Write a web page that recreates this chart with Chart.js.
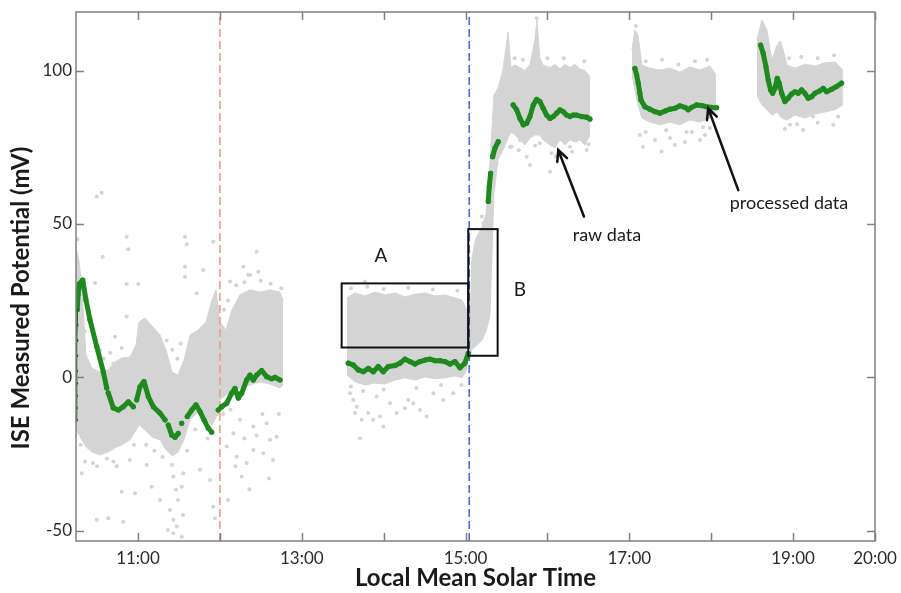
<!DOCTYPE html>
<html>
<head>
<meta charset="utf-8">
<script src="https://cdn.jsdelivr.net/npm/chart.js@4.4.1/dist/chart.umd.min.js"></script>
<style>
    html, body { margin: 0; padding: 0; background: #fff; }
</style>
</head>
<body>
<canvas id="myChart" width="901" height="593"></canvas>
<script>
//axis limits (hours of local mean solar time / mV)
const tMin = 10.243, tMax = 20;
const vMin = -53.4, vMax = 119.1;
const hourTicks = [11, 12, 13, 14, 15, 16, 17, 18, 19, 20];
const hourLabels = ['11:00', '', '13:00', '', '15:00', '', '17:00', '', '19:00', '20:00'];
const valueTicks = [-50, 0, 50, 100];

//processed data (green), null = gap
const procTime = [10.258, 10.268, 10.285, 10.325, 10.365, 10.414, 10.496, 10.576, 10.618, 10.627, 10.637, 10.698, 10.759, 10.821, 10.882, 10.943, 10.96,
    10.984, 11.024, 11.073, 11.126, 11.187, 11.269, 11.330, 11.35, 11.370, 11.411, 11.452, 11.492, 11.51, 11.534, 11.57,
    11.602, 11.656, 11.708, 11.757, 11.806, 11.858, 11.900, 11.94, 11.980, 12.022, 12.083, 12.144, 12.184, 12.225, 12.266,
    12.327, 12.368, 12.408, 12.449, 12.510, 12.571, 12.632, 12.673, 12.734, 13.1,
    13.568, 13.629, 13.690, 13.751, 13.812, 13.873, 13.934, 13.995, 14.056, 14.138, 14.199, 14.260, 14.321, 14.382, 14.443,
    14.504, 14.565, 14.626, 14.687, 14.748, 14.810, 14.871, 14.932, 14.993, 15.033, 15.15,
    15.277, 15.289, 15.306, 15.32, 15.331, 15.359, 15.399, 15.5,
    15.582, 15.624, 15.664, 15.705, 15.746, 15.786, 15.827, 15.868, 15.908, 15.949, 15.990, 16.031, 16.071, 16.112, 16.153,
    16.193, 16.234, 16.275, 16.315, 16.356, 16.418, 16.479, 16.519, 16.8,
    17.068, 17.089, 17.109, 17.129, 17.142, 17.190, 17.252, 17.313, 17.374, 17.435, 17.496, 17.557, 17.618, 17.679, 17.719,
    17.761, 17.822, 17.883, 17.944, 18.005, 18.066, 18.3,
    18.603, 18.635, 18.668, 18.696, 18.725, 18.750, 18.778, 18.806, 18.830, 18.860, 18.900, 18.940, 18.982, 19.022, 19.062,
    19.104, 19.144, 19.184, 19.226, 19.266, 19.327, 19.368, 19.409, 19.470, 19.531, 19.592];
const procValue = [22, 27, 30.5, 31.7, 25.2, 18.7, 10.0, 1.8, -3.5, null, -5.1, -10.0, -10.7, -9.6, -8.0, -9.6, null,
    -7.4, -3.1, -1.4, -6.3, -9.6, -11.7, -13.9, null, -15.6, -18.8, -19.6, -18.3, null, -15.0, null,
    -12.8, -10.7, -9.0, -11.2, -13.9, -16.6, -17.9, null, -10.7, -9.6, -8.5, -5.2, -3.6, -6.8, -5.2,
    -0.9, 0.7, -0.9, 0.7, 2.2, 0.2, -0.5, 0.0, -0.9, null,
    4.6, 4.0, 2.4, 1.8, 2.9, 1.8, 3.5, 1.8, 3.5, 3.8, 4.6, 5.9, 5.1, 4.3, 5.1,
    5.6, 5.9, 5.4, 5.4, 5.1, 4.3, 5.1, 3.1, 4.6, 7.8, null,
    57.3, 62.1, 66.5, null, 71.9, 74.7, 76.8, null,
    88.8, 87.2, 84.4, 82.3, 82.8, 85.0, 88.8, 90.6, 89.9, 87.7, 85.5, 84.4, 85.0, 86.1, 87.2,
    86.6, 85.5, 85.0, 85.5, 85.5, 85.0, 84.8, 84.2, null,
    100.7, 98.6, 95.9, 92.6, 90.4, 88.2, 87.4, 86.6, 86.1, 86.8, 87.4, 87.7, 88.5, 88.0, 87.2,
    88.0, 88.8, 88.6, 88.2, 88.0, 87.9, null,
    108.3, 105.6, 101.3, 96.9, 93.7, 92.6, 94.2, 97.5, 95.9, 92.6, 89.9, 91.0, 92.4, 93.1, 92.6,
    93.7, 92.6, 91.0, 91.5, 92.6, 93.4, 94.2, 93.1, 93.9, 94.8, 95.9];

//first rise of processed data at the left edge (thin dots)
const riseTime = [10.246, 10.247, 10.248, 10.249, 10.250, 10.252, 10.254, 10.256, 10.258];
const riseValue = [-14, -10, -6, -2, 2, 7, 12, 17, 22];

//raw data (gray): dense cloud envelopes per segment
const band1Time = [10.243, 10.280, 10.316, 10.365, 10.438, 10.536, 10.634, 10.719, 10.805, 10.902, 10.976, 11.012, 11.085, 11.171,
    11.269, 11.342, 11.415, 11.488, 11.562, 11.635, 11.733, 11.830, 11.904, 11.952, 12.001, 12.074, 12.148, 12.245,
    12.368, 12.490, 12.612, 12.734, 12.770];
const band1High = [42, 38, 28.5, 7.3, 3, 1.7, 2.4, 5, 6.3, 6.6, 10.5, 18, 19.3, 16.7, 13.8, 8.9, 1.7, 0.7, 5.6, 13.8, 15.4, 18,
    25.2, 28.5, 18, 15.4, 22, 26.9, 28.5, 27.8, 28.5, 27.8, 25.2];
const band1Low = [-17, -18.8, -20.5, -22.7, -24.4, -25.3, -24.4, -23, -22, -20.4, -17.2, -15.5, -17.2, -19.5, -20.4, -23.6,
    -25.6, -24.4, -20.4, -13.9, -11.3, -13.9, -15.5, -13.2, -7.4, -5.7, -4.8, -3.5, -2.5, -1.5, -2.2, -3.5, -2.5];

const bandATime = [13.552, 13.650, 13.772, 13.894, 14.016, 14.138, 14.260, 14.382, 14.504, 14.626, 14.748, 14.871, 14.956, 15.017];
const bandAHigh = [25.9, 27.5, 26.5, 27.8, 26.8, 27.5, 26.2, 27.1, 27.5, 26.5, 26.8, 25.9, 25.2, 21.9];
const bandALow = [0.7, -1.5, -2.5, -1.9, -2.2, -0.9, -0.2, -0.9, 0.1, -0.5, -0.2, 0.4, -0.2, 2.4];

const band3Time = [15.054, 15.075, 15.12, 15.200, 15.250, 15.298, 15.347, 15.396, 15.457, 15.518, 15.555, 15.603, 15.664, 15.725,
    15.786, 15.847, 15.872, 15.908, 15.945, 16.031, 16.092, 16.153, 16.214, 16.275, 16.336, 16.397, 16.458, 16.519];
const band3High = [12, 38, 45, 49, 53, 70, 92, 94.3, 100.2, 112.6, 101, 101.8, 101, 100, 102, 110, 116.5, 104, 101.8, 101, 102,
    100.5, 102, 101, 102, 100.5, 100, 98];
const band3Low = [6, 9, 10, 12, 15, 20, 60, 70.8, 74.1, 78, 80, 79, 77.4, 75.7, 78, 79, 79, 79, 77.4, 75.7, 74.8, 77.4, 75.7,
    77.4, 76.7, 77.4, 75.7, 79];

const band4Time = [17.032, 17.068, 17.105, 17.154, 17.252, 17.374, 17.496, 17.618, 17.740, 17.862, 17.984, 18.057];
const band4High = [106.7, 113.2, 111.6, 101.8, 100.8, 100.2, 100.8, 99.5, 101.2, 100.2, 101.5, 98.6];
const band4Low = [98.6, 93.7, 88.8, 84.5, 83.2, 82.3, 83.2, 82.3, 83.9, 83.2, 84.5, 87.2];

const band5Time = [18.558, 18.619, 18.680, 18.741, 18.802, 18.863, 18.924, 19.022, 19.144, 19.266, 19.388, 19.510, 19.608];
const band5High = [110, 116.5, 113.2, 103.4, 108.3, 108.3, 101.8, 100.8, 102.1, 101.5, 102.5, 102.8, 100.2];
const band5Low = [92, 88.8, 87.2, 85.5, 86.5, 84.5, 83.9, 85.5, 84.5, 85.8, 86.5, 87.2, 88.8];

//raw data (gray): loose points outside the dense cloud
const dotTime = [10.496, 10.557, 10.862, 10.882, 10.569, 10.862, 11.004, 11.574, 11.595, 11.574, 11.919, 12.286, 12.449,
    12.347, 12.469, 12.123, 10.475, 10.862, 10.719, 10.536, 11.574, 11.797, 11.717, 12.368,
    10.353, 10.313, 10.496, 10.637, 10.820, 10.801, 10.963, 11.106, 11.167, 11.269, 11.391, 11.431, 11.473, 11.534,
    11.431, 11.534, 11.553, 11.431, 11.757, 11.879, 11.919, 11.940, 12.205, 12.266, 12.327, 12.408, 12.530, 12.612,
    12.693, 12.164, 12.083, 12.408, 12.571, 12.245, 11.415, 11.464, 11.488, 11.366, 11.549, 10.45, 10.62, 10.74, 10.90,
    12.04, 12.13, 12.30, 12.45, 12.52, 12.65, 12.72, 12.19, 12.36, 12.60, 12.10,
    10.58, 10.66, 10.80, 10.70, 10.26, 10.27, 10.29, 10.31, 10.33, 10.35, 11.35, 11.42, 11.48, 11.52,
    12.05, 12.10, 12.20, 12.30, 12.50, 12.62, 12.75, 10.30, 10.50, 10.70, 10.95, 11.10, 11.20, 11.30, 11.60, 11.70, 11.85, 11.98,
    13.629, 13.670, 13.650, 13.731, 13.711, 13.812, 13.873, 13.955, 13.995, 14.077, 14.159, 14.260, 14.300, 14.361,
    14.443, 14.525, 14.606, 14.728, 14.850, 13.589, 13.915, 13.772,
    13.60, 13.80, 14.00, 14.30, 14.60, 14.90, 13.60, 13.75, 14.00, 14.40, 14.70, 14.95,
    15.542, 15.786, 16.031, 16.153, 16.275, 16.479, 15.908, 15.664, 15.746, 16.051, 16.357, 15.216, 15.197, 15.338,
    15.359, 15.380, 15.563, 15.868,
    15.60, 15.70, 16.00, 16.20, 16.45, 15.65, 15.85, 16.10, 16.30, 16.50,
    17.166, 17.394, 17.313, 17.496, 17.679, 17.862, 17.923, 17.129, 17.557, 17.764, 17.984, 17.081,
    17.20, 17.40, 17.60, 17.80, 17.95, 17.20, 17.45, 17.70, 17.90,
    18.737, 18.961, 19.123, 19.490, 19.245, 19.388, 18.839,
    18.95, 19.10, 19.30, 19.50, 18.90, 19.05, 19.30, 19.55];
const dotValue = [58.9, 60.2, 45.8, 41.7, 39.3, 30.4, 30.4, 45.8, 43.4, 36.0, 44.2, 36.0, 40.9,
    33.4, 34.4, 31.2, 30.7, 19.8, 13.2, 8.9, 32.8, 35.0, 27.4, 33.4,
    -27.5, -31.3, -46.5, -46.0, -47.1, -37.3, -37.8, -28.6, -35.7, -40.0, -43.3, -46.5, -48.7, -52.0,
    -50.9, -35.7, -31.3, -32.4, -30.2, -33.5, -42.2, -46.0, -25.9, -32.4, -28.0, -23.7, -24.8, -20.4,
    -19.4, -18.3, -22.6, -16.1, -15.0, -13.9, -28.6, -36.7, -40.0, -49.8, -44.9, -28, -26.5, -29, -27,
    -12, -10.5, -20, -19, -12, -27, -12, -29, -36.5, -33, -40,
    6, 8, 9.5, 4.5, 45, 36, 33, 20, 12, 15, 12, 9, 6, 11,
    22, 25, 30, 31, 31.5, 30.5, 29, -22, -29, -27.5, -22, -22, -24, -26, -24, -17, -20, -12,
    -7.4, -9.6, -11.7, -13.9, -19.9, -11.7, -13.9, -12.8, -16.1, -8.5, -11.7, -10.1, -7.4, -8.5,
    -10.7, -12.8, -5.2, -7.4, -5.2, -5.2, -6.3, 31.2,
    29, 29.5, 28.8, 29.2, 28.6, 28.2, -3, -4.5, -4, -3.5, -2.5, -2.5,
    75.2, 69.2, 67.0, 71.9, 75.2, 74.1, 76.3, 77.4, 71.9, 73.0, 77.4, 50.2, 52.4, 63.3,
    66.5, 69.8, 75.2, 117.1,
    104, 103.5, 104, 104, 103, 74, 75.5, 72, 73.5, 76,
    75.1, 73.6, 77.4, 78.0, 76.7, 77.4, 79.0, 79.0, 75.7, 80.0, 81.3, 114.5,
    103, 103.5, 102, 103, 103.5, 80, 80.5, 80, 81.5,
    87.1, 82.3, 80.6, 82.3, 85.0, 87.1, 108.9,
    104, 104.5, 104, 105, 81, 82.5, 83, 85];

//vertical markers
const markerTimes = [12.0, 15.045];
const markerColors = ['rgba(236, 160, 125, 1)', 'rgba(70, 110, 215, 1)'];

//annotation boxes, labels and arrows (data units)
const boxes = [
    {t0: 13.487, t1: 15.033, v0: 9.7, v1: 30.6},
    {t0: 15.033, t1: 15.392, v0: 7.0, v1: 48.3}
];
const notes = [
    {text: 'A', t: 13.967, v: 39.6, size: 19},
    {text: 'B', t: 15.664, v: 28.5, size: 19},
    {text: 'raw data', t: 16.727, v: 46.4, size: 18},
    {text: 'processed data', t: 18.949, v: 56.8, size: 18}
];
const arrows = [
    {t0: 16.446, v0: 52.4, t1: 16.132, v1: 74.1},
    {t0: 18.330, v0: 61.0, t1: 17.963, v1: 87.7}
];

//colors
const gray = 'rgba(212, 212, 212, 1)';
const green = 'rgba(30, 138, 30, 1)';

function points(times, values){
    let data = [];
    for(let i=0;i<times.length;i++){
        data.push({x: times[i], y: values[i]});
    }
    return data;
}

//upper line filled down to the lower line
function band(times, high, low){
    return [
        {data: points(times, high), borderColor: gray, borderWidth: 1, backgroundColor: gray, fill: '+1', pointRadius: 0, order: 3},
        {data: points(times, low), borderColor: gray, borderWidth: 1, fill: false, pointRadius: 0, order: 3}
    ];
}

let datasets = [];
datasets.push(...band(band1Time, band1High, band1Low));
datasets.push(...band(bandATime, bandAHigh, bandALow));
datasets.push(...band(band3Time, band3High, band3Low));
datasets.push(...band(band4Time, band4High, band4Low));
datasets.push(...band(band5Time, band5High, band5Low));
datasets.push({
    data: points(dotTime, dotValue),
    showLine: false,
    pointRadius: 2,
    pointBorderWidth: 0,
    pointBackgroundColor: gray,
    order: 2
});
for(let i=0;i<markerTimes.length;i++){
    datasets.push({
        data: [{x: markerTimes[i], y: vMin}, {x: markerTimes[i], y: vMax}],
        borderColor: markerColors[i],
        borderWidth: 1.6,
        borderDash: [8, 4],
        pointRadius: 0,
        order: 1
    });
}
datasets.push({
    data: points(riseTime, riseValue),
    borderColor: 'rgba(20, 110, 20, 1)',
    borderWidth: 1.5,
    pointRadius: 1.6,
    pointBorderWidth: 0,
    pointBackgroundColor: 'rgba(20, 110, 20, 1)',
    order: 0
});
datasets.push({
    data: points(procTime, procValue),
    borderColor: green,
    borderWidth: 5,
    borderCapStyle: 'round',
    borderJoinStyle: 'round',
    pointRadius: 2.6,
    pointBorderWidth: 0,
    pointBackgroundColor: green,
    spanGaps: false,
    order: 0
});

//frame, inward ticks, axis titles and the annotations
const decorations = {
    id: 'decorations',
    afterDatasetsDraw(chart){
        const {ctx, chartArea: a, scales: {x, y}} = chart;
        ctx.save();

        ctx.strokeStyle = '#111';
        ctx.lineWidth = 2;
        for(let b of boxes){
            const x0 = x.getPixelForValue(b.t0), x1 = x.getPixelForValue(b.t1);
            const y0 = y.getPixelForValue(b.v1), y1 = y.getPixelForValue(b.v0);
            ctx.strokeRect(x0, y0, x1 - x0, y1 - y0);
        }

        ctx.fillStyle = '#1a1a1a';
        ctx.textAlign = 'center';
        ctx.textBaseline = 'middle';
        for(let n of notes){
            ctx.font = n.size + 'px Lato';
            ctx.fillText(n.text, x.getPixelForValue(n.t), y.getPixelForValue(n.v));
        }

        ctx.strokeStyle = '#111';
        ctx.lineWidth = 2.5;
        ctx.lineCap = 'round';
        for(let r of arrows){
            const x0 = x.getPixelForValue(r.t0), y0 = y.getPixelForValue(r.v0);
            const x1 = x.getPixelForValue(r.t1), y1 = y.getPixelForValue(r.v1);
            const ang = Math.atan2(y1 - y0, x1 - x0);
            ctx.beginPath();
            ctx.moveTo(x0, y0);
            ctx.lineTo(x1, y1);
            ctx.moveTo(x1 - 12 * Math.cos(ang - 0.45), y1 - 12 * Math.sin(ang - 0.45));
            ctx.lineTo(x1, y1);
            ctx.lineTo(x1 - 12 * Math.cos(ang + 0.45), y1 - 12 * Math.sin(ang + 0.45));
            ctx.stroke();
        }

        ctx.strokeStyle = '#808080';
        ctx.lineWidth = 1.5;
        ctx.lineCap = 'butt';
        ctx.strokeRect(a.left, a.top, a.right - a.left, a.bottom - a.top);
        ctx.beginPath();
        for(let h of hourTicks){
            const px = Math.round(x.getPixelForValue(h)) + 0.5;
            ctx.moveTo(px, a.bottom); ctx.lineTo(px, a.bottom - 8);
            ctx.moveTo(px, a.top); ctx.lineTo(px, a.top + 8);
        }
        for(let v of valueTicks){
            const py = Math.round(y.getPixelForValue(v)) + 0.5;
            ctx.moveTo(a.left, py); ctx.lineTo(a.left + 8, py);
            ctx.moveTo(a.right, py); ctx.lineTo(a.right - 8, py);
        }
        ctx.stroke();

        ctx.fillStyle = '#1a1a1a';
        ctx.font = 'bold 24px Lato';
        ctx.fillText('Local Mean Solar Time', (a.left + a.right) / 2, 578);
        ctx.translate(21, 298);
        ctx.rotate(-Math.PI / 2);
        ctx.fillText('ISE Measured Potential (mV)', 0, 0);
        ctx.restore();
    }
};

//drop the automatic label overflow padding so the plot box stays put
function noPadding(scale){
    scale.paddingLeft = 0;
    scale.paddingRight = 0;
    scale.paddingTop = 0;
    scale.paddingBottom = 0;
}

const config = {
    type: 'line',
    data: {datasets: datasets},
    options: {
        responsive: false,
        animation: false,
        layout: {padding: {top: 12, right: 26, left: 0, bottom: 0}},
        plugins: {
            legend: {display: false},
            tooltip: {enabled: false}
        },
        scales: {
            x: {
                type: 'linear',
                min: tMin,
                max: tMax,
                afterBuildTicks: function(scale){
                    scale.ticks = hourTicks.map(v => ({value: v}));
                },
                afterFit: function(scale){ scale.height = 52; noPadding(scale); },
                grid: {display: false, drawTicks: false},
                border: {display: false},
                ticks: {
                    autoSkip: false,
                    maxRotation: 0,
                    padding: 7,
                    color: '#2b2b2b',
                    font: {family: 'Lato', size: 17},
                    callback: function(value){
                        return hourLabels[hourTicks.indexOf(value)];
                    }
                }
            },
            y: {
                min: vMin,
                max: vMax,
                afterBuildTicks: function(scale){
                    scale.ticks = valueTicks.map(v => ({value: v}));
                },
                afterFit: function(scale){ scale.width = 76; noPadding(scale); },
                grid: {display: false, drawTicks: false},
                border: {display: false},
                ticks: {
                    padding: 4,
                    color: '#2b2b2b',
                    font: {family: 'Lato', size: 17}
                }
            }
        }
    },
    plugins: [decorations]
};

const ctx = document.getElementById('myChart').getContext('2d');
const myChart = new Chart(ctx, config);
</script>
</body>
</html>
